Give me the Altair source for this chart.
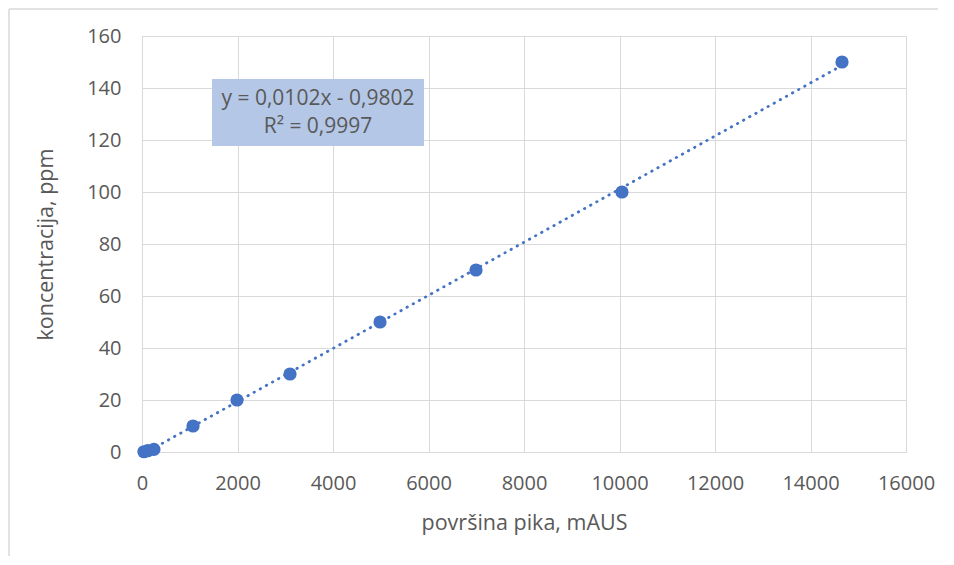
import altair as alt
import pandas as pd

area = [40, 120, 250, 1068, 1990, 3100, 4985, 6995, 10052, 14660]
conc = [0.1, 0.5, 1, 10, 20, 30, 50, 70, 100, 150]

x_ticks = list(range(0, 16001, 2000))
y_ticks = list(range(0, 161, 20))

eq_line1 = "y = 0,0102x - 0,9802"
eq_line2 = "R² = 0,9997"

FONT = "Open Sans"
TXT = "#595959"
BLUE = "#4472C4"

df = pd.DataFrame({"x": area, "y": conc})

xs = alt.Scale(domain=[0, 16000], nice=False)
ys = alt.Scale(domain=[0, 160], nice=False)

base = alt.Chart(df)

points = base.mark_circle(size=175, opacity=1, color=BLUE).encode(
    x=alt.X("x:Q", scale=xs,
            axis=alt.Axis(title="površina pika, mAUS", values=x_ticks, format="d",
                          grid=True, gridColor="#D9D9D9", domainColor="#D9D9D9",
                          ticks=False, labelFont=FONT, labelFontSize=20, labelColor=TXT,
                          labelFlush=False, labelOverlap=False,
                          labelPadding=21, titleFont=FONT, titleFontSize=21.5,
                          titleFontWeight="normal", titleColor=TXT, titlePadding=19)),
    y=alt.Y("y:Q", scale=ys,
            axis=alt.Axis(title="koncentracija, ppm", values=y_ticks, format="d",
                          grid=True, gridColor="#D9D9D9", domain=False,
                          ticks=False, labelFont=FONT, labelFontSize=20, labelColor=TXT,
                          labelFlush=False, labelOverlap=False,
                          labelPadding=21, titleFont=FONT, titleFontSize=21.5,
                          titleFontWeight="normal", titleColor=TXT, titlePadding=29)),
)

trend = base.transform_regression("x", "y").mark_line(
    color=BLUE, strokeWidth=2.8, strokeDash=[0.5, 6.5], strokeCap="round"
).encode(x=alt.X("x:Q", scale=xs), y=alt.Y("y:Q", scale=ys))

one = pd.DataFrame({"a": [0]})

box = alt.Chart(one).mark_rect(color="#B4C7E7").encode(
    x=alt.value(70), x2=alt.value(282), y=alt.value(43), y2=alt.value(110)
)

eq1 = alt.Chart(one).mark_text(font=FONT, fontSize=21, color=TXT, align="center",
                               baseline="middle", text=eq_line1).encode(
    x=alt.value(176), y=alt.value(63)
)
eq2 = alt.Chart(one).mark_text(font=FONT, fontSize=21, color=TXT, align="center",
                               baseline="middle", text=eq_line2).encode(
    x=alt.value(176), y=alt.value(91)
)

frame_l = alt.Chart(one).mark_rule(color="#D9D9D9", strokeWidth=1.5).encode(
    x=alt.value(-133), y=alt.value(-27), y2=alt.value(600)
)
frame_t = alt.Chart(one).mark_rule(color="#D9D9D9", strokeWidth=1.5).encode(
    x=alt.value(-133), x2=alt.value(796), y=alt.value(-27)
)

chart = alt.layer(trend, points, box, eq1, eq2, frame_l, frame_t).properties(
    width=764, height=416,
    autosize=alt.AutoSizeParams(type="none"),
    padding={"left": 134, "top": 28, "right": 36, "bottom": 104},
).configure_view(stroke="#D9D9D9", strokeWidth=1)

chart.save("out.html", embed_options={"renderer": "svg", "actions": False})
